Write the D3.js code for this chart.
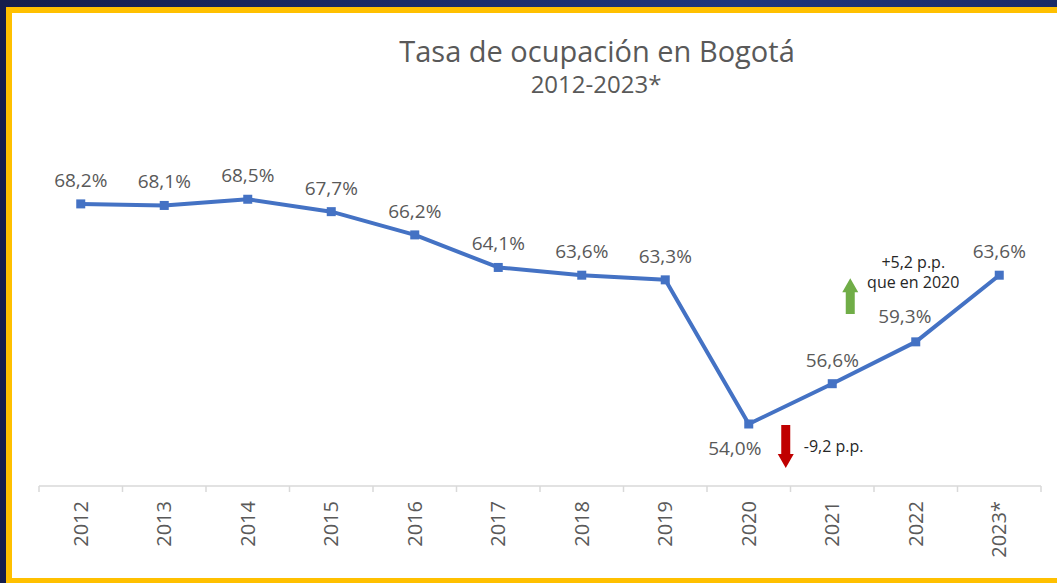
<!DOCTYPE html>
<html lang="es">
<head>
<meta charset="UTF-8">
<title>Tasa de ocupación en Bogotá</title>
<style>
  body { margin: 0; background: #fff; }
  svg { display: block; }
  text { font-family: "Open Sans", "Noto Sans", sans-serif; }
</style>
</head>
<body>
<svg id="chart" width="1057" height="583"></svg>

<script src="https://d3js.org/d3.v7.min.js"></script>
<script>
// datos
var years = ["2012", "2013", "2014", "2015", "2016", "2017", "2018", "2019", "2020", "2021", "2022", "2023*"];
var rates = [68.2, 68.1, 68.5, 67.7, 66.2, 64.1, 63.6, 63.3, 54.0, 56.6, 59.3, 63.6];
var title = "Tasa de ocupación en Bogotá";
var subtitle = "2012-2023*";
var upNote = ["+5,2 p.p.", "que en 2020"];
var downNote = "-9,2 p.p.";

var W = 1057, H = 583;
var svg = d3.select("#chart");

// fondo: marco azul y amarillo
var defs = svg.append("defs");
var grad = defs.append("linearGradient").attr("id", "navy").attr("x1", 0).attr("x2", 1).attr("y1", 0).attr("y2", 0);
grad.append("stop").attr("offset", "0%").attr("stop-color", "#151e4c");
grad.append("stop").attr("offset", "70%").attr("stop-color", "#1e367d");
grad.append("stop").attr("offset", "100%").attr("stop-color", "#1a2b66");

svg.append("rect").attr("width", W).attr("height", H).attr("fill", "url(#navy)");
svg.append("rect").attr("x", 6).attr("y", 7).attr("width", W - 6).attr("height", H - 7).attr("fill", "#ffc000");
svg.append("rect").attr("x", 12).attr("y", 13).attr("width", W - 12).attr("height", 565).attr("fill", "#fff");

// titulo
svg.append("text").attr("x", 597).attr("y", 62).attr("text-anchor", "middle")
  .attr("font-size", 29).attr("fill", "#595959").text(title);
svg.append("text").attr("x", 596).attr("y", 93).attr("text-anchor", "middle")
  .attr("font-size", 24).attr("fill", "#595959").text(subtitle);

// escalas
var x = d3.scaleBand().domain(years).range([39, 1041]);
var y = d3.scaleLinear().domain([50, 70]).range([486, 176]);
var cx = function (d, i) { return x(years[i]) + x.bandwidth() / 2; };

// eje x
var axisY = y(50);
svg.append("line").attr("x1", 39).attr("x2", 1041).attr("y1", axisY).attr("y2", axisY)
  .attr("stroke", "#d9d9d9").attr("stroke-width", 1.5);
svg.selectAll(".tick").data(d3.range(years.length + 1)).enter().append("line")
  .attr("x1", function (i) { return 39 + i * x.step(); })
  .attr("x2", function (i) { return 39 + i * x.step(); })
  .attr("y1", axisY).attr("y2", axisY + 6)
  .attr("stroke", "#d9d9d9").attr("stroke-width", 1.5);
svg.selectAll(".year").data(years).enter().append("text")
  .attr("transform", function (d) {
    return "translate(" + (x(d) + x.bandwidth() / 2 + 7) + "," + 501 + ") rotate(-90)";
  })
  .attr("text-anchor", "end").attr("font-size", 20).attr("fill", "#595959")
  .text(function (d) { return d; });

// linea
var line = d3.line().x(cx).y(function (d) { return y(d); });
svg.append("path").datum(rates).attr("d", line)
  .attr("fill", "none").attr("stroke", "#4472c4").attr("stroke-width", 4)
  .attr("stroke-linejoin", "round");
svg.selectAll(".mk").data(rates).enter().append("rect")
  .attr("x", function (d, i) { return cx(d, i) - 4.5; })
  .attr("y", function (d) { return y(d) - 4.5; })
  .attr("width", 9).attr("height", 9).attr("fill", "#4472c4");

// etiquetas
var fmt = function (v) { return v.toFixed(1).replace(".", ",") + "%"; };
svg.selectAll(".lbl").data(rates).enter().append("text")
  .attr("x", function (d, i) {
    if (years[i] === "2020") return cx(d, i) - 14;
    if (years[i] === "2022") return cx(d, i) - 11;
    return cx(d, i);
  })
  .attr("y", function (d, i) {
    if (years[i] === "2020") return y(d) + 31;
    if (years[i] === "2022") return y(d) - 19;
    return y(d) - 17;
  })
  .attr("text-anchor", "middle").attr("font-size", 19).attr("fill", "#595959")
  .text(fmt);

// flechas
function arrow(x0, yTail, yHead, color) {
  var dir = yHead > yTail ? 1 : -1, hw = 8, sw = 4.5, hl = 14;
  var yb = yHead - dir * hl;
  var pts = [[x0 - sw, yTail], [x0 + sw, yTail], [x0 + sw, yb], [x0 + hw, yb],
             [x0, yHead], [x0 - hw, yb], [x0 - sw, yb]];
  svg.append("path").attr("d", d3.line()(pts) + "Z").attr("fill", color);
}
var i20 = years.indexOf("2020"), i21 = years.indexOf("2021");
arrow(cx(0, i20) + 37, y(54) + 1, y(54) + 44, "#c00000");
svg.append("text").attr("x", cx(0, i20) + 55).attr("y", y(54) + 28)
  .attr("font-size", 16).attr("fill", "#262626").text(downNote);

arrow(cx(0, i21) + 18, y(61.1), y(63.4), "#70ad47");
svg.selectAll(".up").data(upNote).enter().append("text")
  .attr("x", cx(0, i21) + 81)
  .attr("y", function (d, k) { return 268 + k * 20; })
  .attr("text-anchor", "middle").attr("font-size", 16).attr("fill", "#262626")
  .text(function (d) { return d; });
</script>
</body>
</html>
